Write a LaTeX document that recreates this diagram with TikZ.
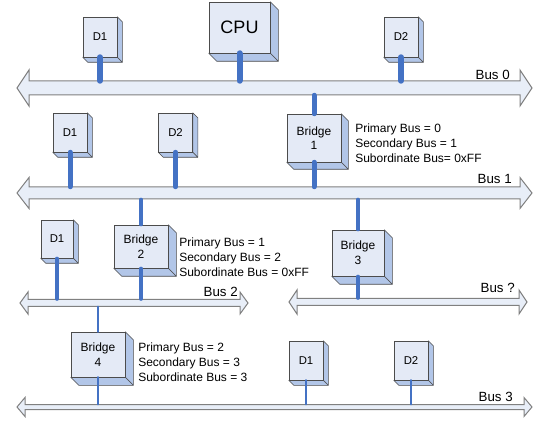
\documentclass[tikz,border=0pt]{standalone}
\usepackage{fontspec}
\setmainfont{Liberation Sans}
\usetikzlibrary{calc,fit}
\definecolor{boxfront}{HTML}{E4EAF6}
\definecolor{boxside}{HTML}{B2C6E8}
\definecolor{busfill}{HTML}{E8EEF8}
\definecolor{linkblue}{HTML}{4472C4}
% right and bottom faces of a device box
\newcommand{\cubeside}[2]{%
  \filldraw[cubeside] (#1.north east) -- ++(#2,-#2) -- ($(#1.south east)+(#2,-#2)$) -- (#1.south east) -- cycle;
  \filldraw[cubeside] (#1.south west) -- ++(#2,-#2) -- ($(#1.south east)+(#2,-#2)$) -- (#1.south east) -- cycle;}
% name, left tip, right tip, y, half shaft, half head, head length
\newcommand{\busline}[7]{%
  \draw[bus] (#2,#4) -- (#2+#7,#4-#6) -- (#2+#7,#4-#5) -- (#3-#7,#4-#5) -- (#3-#7,#4-#6) -- (#3,#4)
    -- (#3-#7,#4+#6) -- (#3-#7,#4+#5) -- (#2+#7,#4+#5) -- (#2+#7,#4+#6) -- cycle;
  \path (#2+#7,#4-#5) coordinate (#1-a) (#3-#7,#4+#5) coordinate (#1-b);
  \node[fit=(#1-a)(#1-b), inner sep=0pt] (#1) {};}
\tikzset{
  dev/.style      = {draw=black!70, fill=boxfront, align=center, inner sep=1pt,
                     font=\fontsize{8.5}{10}\selectfont,
                     append after command={\pgfextra{\cubeside{\tikzlastnode}{#1}}}},
  dev/.default    = 3.75pt,
  bridge/.style   = {dev=#1, font=\fontsize{9}{11}\selectfont, minimum width=40.5pt},
  bridge/.default = 6pt,
  cubeside/.style = {draw=black!70, fill=boxside, line join=round},
  bus/.style      = {draw=black!50, fill=busfill, line width=0.75pt},
  link/.style     = {draw=linkblue, line cap=round},
  info/.style     = {align=left, anchor=north west, inner sep=0pt, font=\fontsize{9}{10.9}\selectfont},
  buslbl/.style   = {anchor=base east, inner sep=0pt, font=\fontsize{10}{12}\selectfont},
}
\begin{document}
\begin{tikzpicture}[x=0.75pt, y=-0.75pt]
  \useasboundingbox (0,0) rectangle (554,424);
  \busline{bus0}{17}{532}{88}{7}{18}{12}
  \busline{bus1}{17}{532}{193}{6}{15.5}{12}
  \busline{bus2}{20}{248}{303}{3.5}{11}{8}
  \busline{busq}{289}{527}{302}{3.5}{12}{8}
  \busline{bus3}{17}{532}{407}{2.5}{9.5}{8}
  \node[buslbl] (lbl0) at (510,80) {Bus 0};
  \node[buslbl] (lbl1) at (512,184) {Bus 1};
  \node[buslbl] (lbl2) at (238,297) {Bus 2};
  \node[buslbl] (lblq) at (515,293) {Bus ?};
  \node[buslbl] (lbl3) at (513,402) {Bus 3};

  \node[dev, minimum width=25.5pt, minimum height=30pt] (d1a) at (100,37) {D1};
  \node[dev=6pt, minimum width=45.75pt, minimum height=38.25pt, font=\fontsize{13.5}{15}\selectfont] (cpu) at (239.5,27.5) {CPU};
  \node[dev, minimum width=25.5pt, minimum height=30pt] (d2a) at (401,37) {D2};

  \node[dev, minimum width=25.5pt, minimum height=29.25pt] (d1b) at (70,132.5) {D1};
  \node[dev, minimum width=25.5pt, minimum height=29.25pt] (d2b) at (175.5,132.5) {D2};
  \node[bridge=5.25pt, minimum height=36pt] (br1) at (314,138) {Bridge\\1};
  \node[info] (info1) at (355,124) {Primary Bus = 0\\Secondary Bus = 1\\Subordinate Bus= 0xFF};

  \node[dev, minimum width=24pt, minimum height=28.5pt] (d1c) at (57,239) {D1};
  \node[bridge, minimum height=32.25pt] (br2) at (141,246.5) {Bridge\\2};
  \node[info] (info2) at (179,238) {Primary Bus = 1\\Secondary Bus = 2\\Subordinate Bus = 0xFF};
  \node[bridge, minimum width=39pt, minimum height=34.5pt] (br3) at (358,253) {Bridge\\3};

  \node[bridge, minimum height=33.75pt] (br4) at (98,354.5) {Bridge\\4};
  \node[info] (info4) at (138,343) {Primary Bus = 2\\Secondary Bus = 3\\Subordinate Bus = 3};
  \node[dev, minimum width=25.5pt, minimum height=29.25pt] (d1d) at (306,360.5) {D1};
  \node[dev, minimum width=25.5pt, minimum height=29.25pt] (d2d) at (411,360.5) {D2};

  \draw[link, line width=4.5pt] (d1a.south) -- (d1a |- bus0.north);
  \draw[link, line width=4.5pt] (cpu.south) -- (cpu |- bus0.north);
  \draw[link, line width=4.5pt] (d2a.south) -- (d2a |- bus0.north);
  \draw[link, line width=3.75pt] (d1b.south) -- (d1b |- bus1.north);
  \draw[link, line width=3.75pt] (d2b.south) -- (d2b |- bus1.north);
  \draw[link, line width=3.75pt] (br1 |- bus0.south) -- (br1.north);
  \draw[link, line width=3.75pt] (br1.south) -- (br1 |- bus1.north);
  \draw[link, line width=2.4pt] (d1c.south) -- (d1c |- bus2.north);
  \draw[link, line width=2.4pt] (br2 |- bus1.south) -- (br2.north);
  \draw[link, line width=2.4pt] (br2.south) -- (br2 |- bus2.north);
  \draw[link, line width=2.4pt] (br3 |- bus1.south) -- (br3.north);
  \draw[link, line width=2.4pt] (br3.south) -- (br3 |- busq.north);
  \draw[link, line width=1.7pt] (br4 |- bus2.south) -- (br4.north);
  \draw[link, line width=1.7pt] (br4.south) -- (br4 |- bus3.north);
  \draw[link, line width=1.7pt] (d1d.south) -- (d1d |- bus3.north);
  \draw[link, line width=1.7pt] (d2d.south) -- (d2d |- bus3.north);
\end{tikzpicture}
\end{document}
